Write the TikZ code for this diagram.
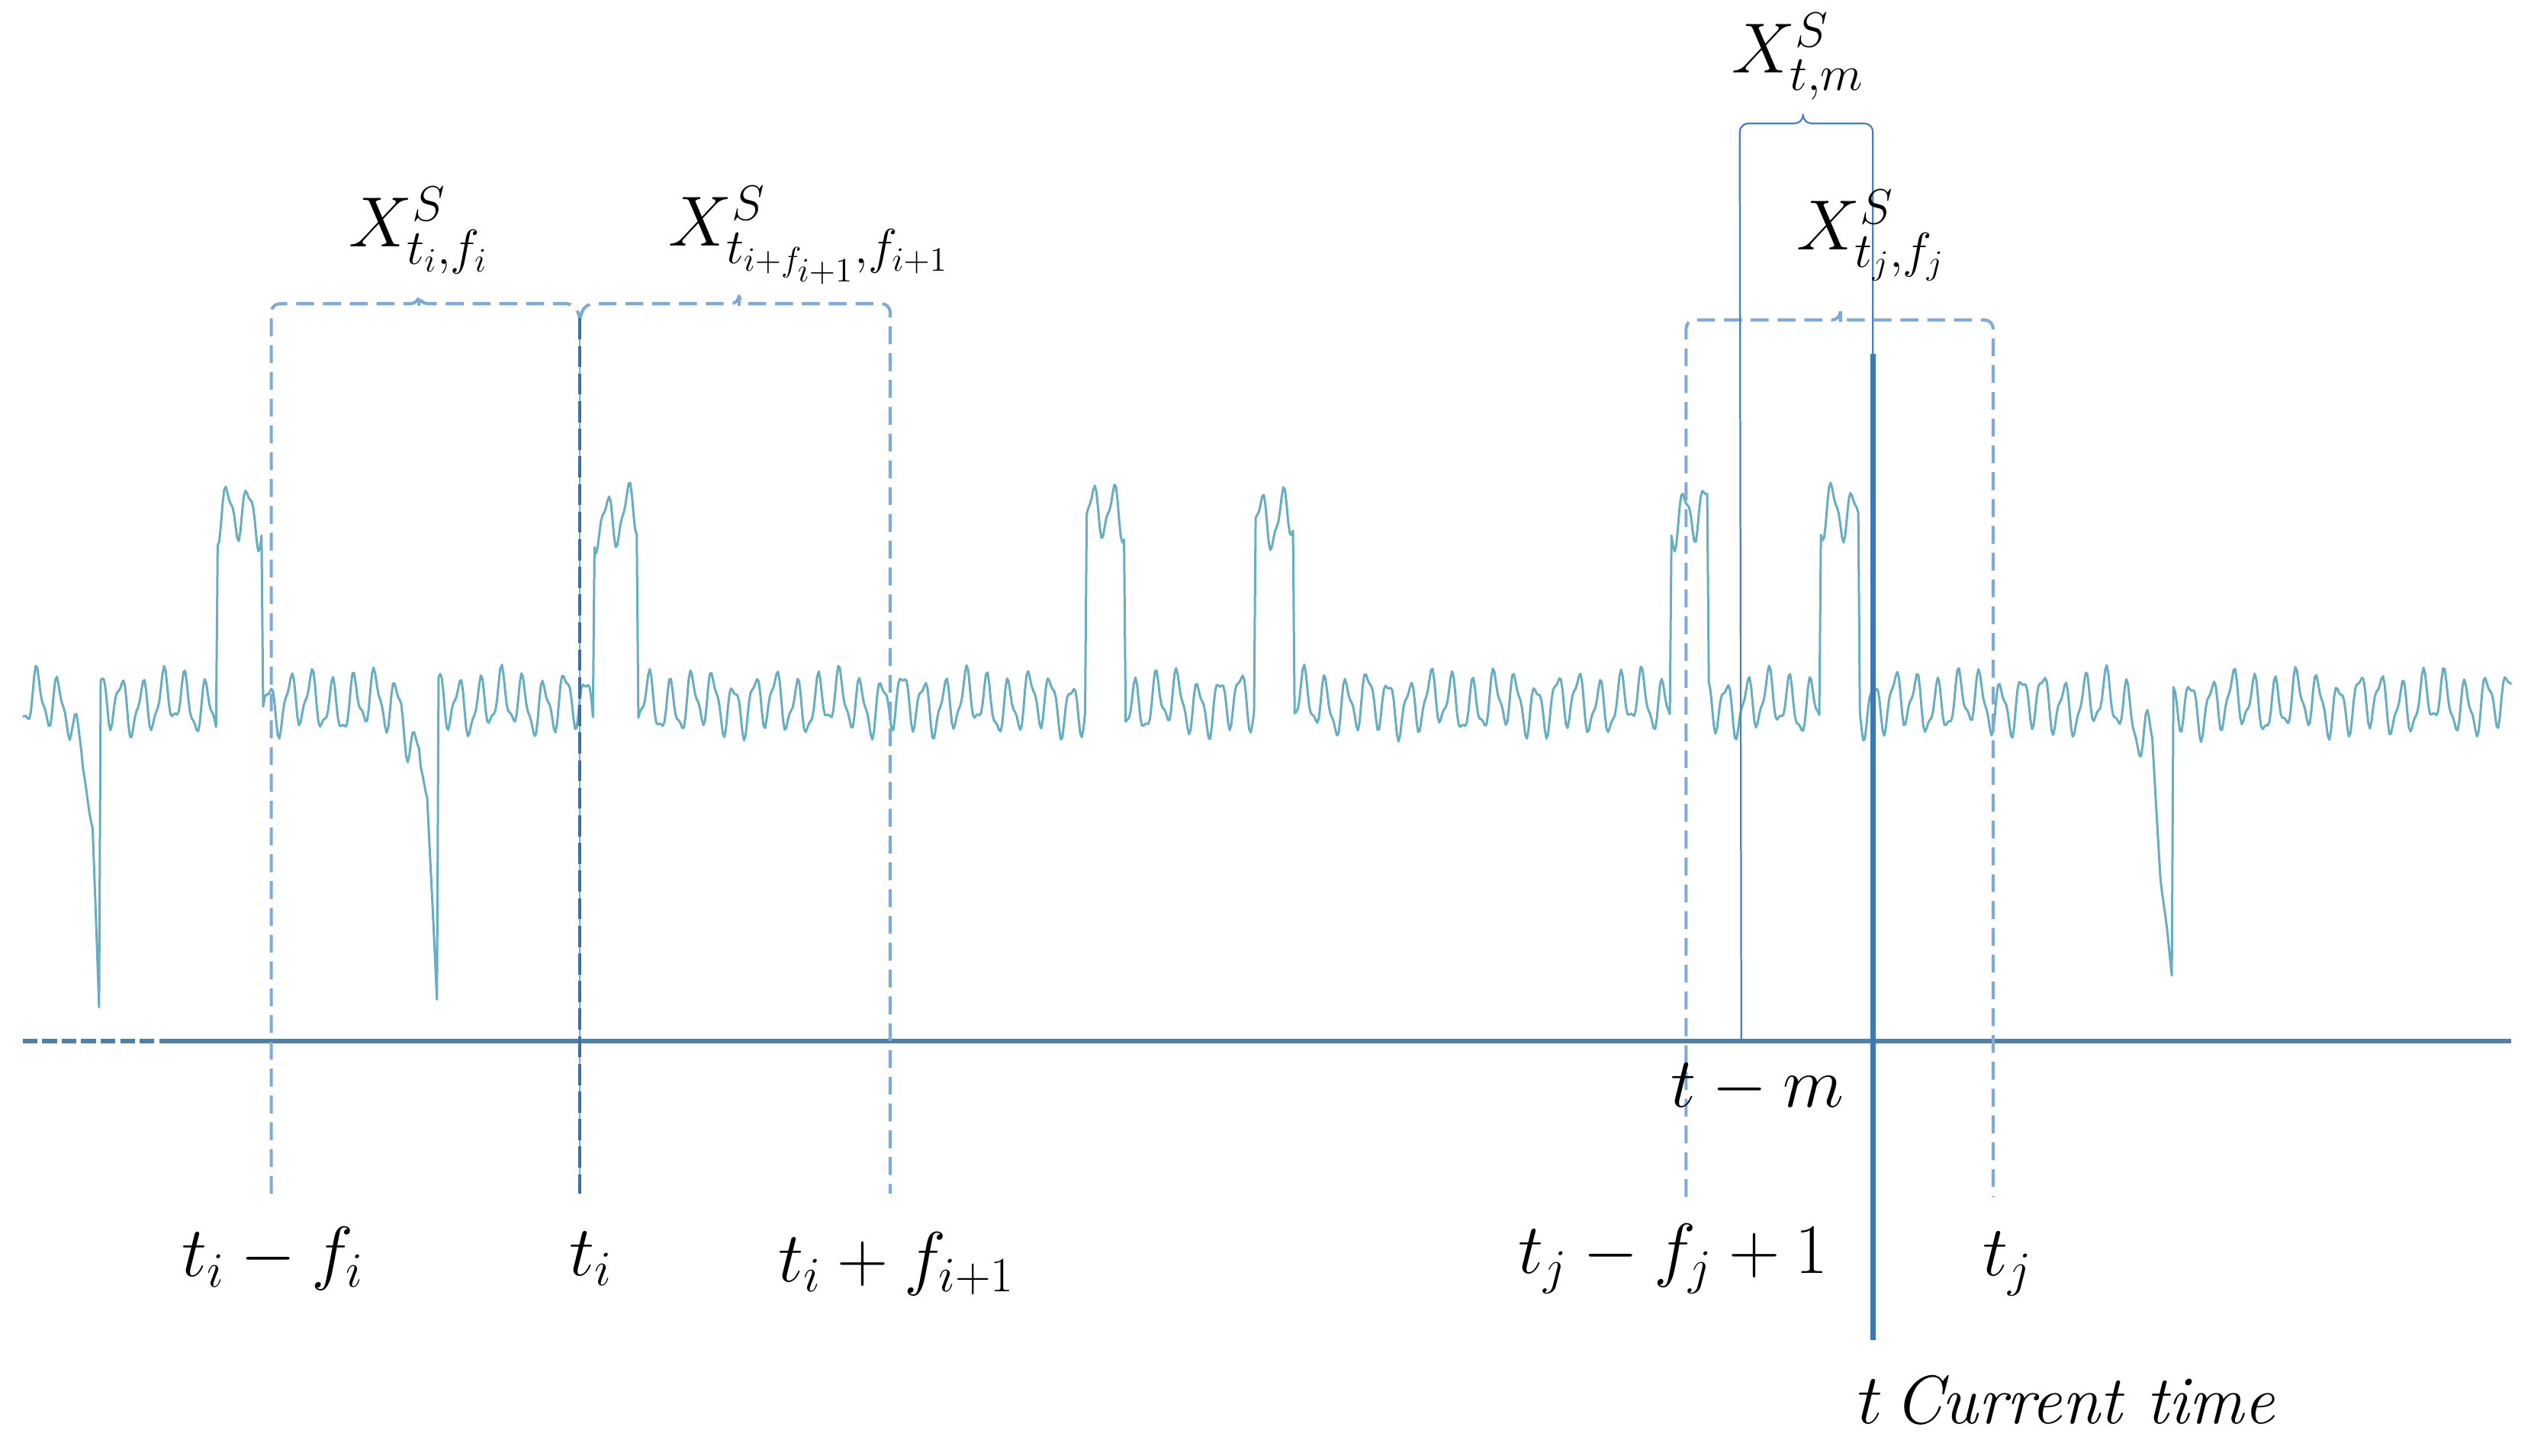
\documentclass[tikz,border=0pt]{standalone}
\usepackage{tikz}
\definecolor{sigc}{HTML}{66AEC0}
\definecolor{axisc}{HTML}{4F7FA6}
\definecolor{dashc}{HTML}{7EAAD8}
\definecolor{darkdash}{HTML}{3F6FA0}
\definecolor{curc}{HTML}{3C78B4}
\definecolor{thinc}{HTML}{4A80BE}
\tikzset{
  signal/.style={sigc, line width=0.8pt, line join=round},
  axisline/.style={axisc, line width=1.8pt},
  bracketd/.style={dashc, line width=1.1pt, dash pattern=on 2.2mm off 1.1mm},
  bracketsolid/.style={thinc, line width=0.6pt},
  curline/.style={curc, line width=1.8pt},
  lab/.style={inner sep=0pt, font=\fontsize{24}{28}\selectfont},
  declare function={
    rmp(\x,\a,\b)=min(max((\x-\a)/(\b-\a),0),1);
    ind(\x,\a,\b)=(\x>\a)*(\x<\b);
    osc(\x)=15*sin(mod(\x,13)*27.6923)+5*sin(mod(\x,6.1)*59.0164+50)+4*sin(mod(\x,41)*8.7805+70);
    plat(\x)=ind(\x,133,162)+ind(\x,365,393)+ind(\x,668,693)+ind(\x,772,797)+ind(\x,1028,1052)+ind(\x,1120,1145);
    dipa(\x)=(\x<62)*(75*rmp(\x,44,57)+115*rmp(\x,57,61));
    dipb(\x)=(\x<270)*(55*rmp(\x,247,263)+130*rmp(\x,263,269));
    dipc(\x)=(\x<1338)*(25*rmp(\x,1308,1325)+80*rmp(\x,1325,1330)+65*rmp(\x,1330,1337));
    damp(\x)=1-0.8*ind(\x,50,62)-0.8*ind(\x,258,270)-0.8*ind(\x,1326,1338);
    sig(\x)=433+osc(\x)*damp(\x)-115*plat(\x)+dipa(\x)+dipb(\x)+dipc(\x);
  }
}
\begin{document}
\begin{tikzpicture}[x=0.2mm, y=-0.2mm]
\useasboundingbox (0,0) rectangle (1568,896);
% signal
\draw[signal] plot[domain=14:1546, samples=1533] (\x,{sig(\x)});
% axis
\coordinate (ax0) at (14,641);
\coordinate (ax1) at (100,641);
\coordinate (ax2) at (1546,641);
\draw[axisline, dash pattern=on 1.8mm off 0.6mm] (ax0) -- (ax1);
\draw[axisline] (ax1) -- (ax2);
% dashed brackets
\coordinate (ti) at (357,196);
\draw[bracketd, rounded corners=3] (167,735) -- (167,187) -- (258,187) -- (258,183) -- (258,187) -- (354,187) -- (ti);
\draw[bracketd, rounded corners=3] (ti) -- (360,187) -- (455,187) -- (455,183) -- (455,187) -- (548,187) -- (548,735);
\draw[dashc, line width=0.5pt] (ti) -- (357,735);
\draw[darkdash, line width=1.1pt, dash pattern=on 2.6mm off 0.8mm] (ti) -- (357,735);
\draw[bracketd, rounded corners=3] (1038,737) -- (1038,197) -- (1133,197) -- (1133,193) -- (1133,197) -- (1227,197) -- (1227,737);
% solid bracket X_{t,m}
\draw[bracketsolid, rounded corners=3] (1072,641) -- (1071,76) -- (1110,76) -- (1110,67) -- (1110,76) -- (1153,76) -- (1153,220);
\draw[curline] (1153,218) -- (1153,825);
% labels
\node[lab] (l1) at (258,142) {$X^S_{t_i,f_i}$};
\node[lab, font=\fontsize{25.5}{30}\selectfont] (l2) at (498,145) {$X^S_{t_{i+f_{i+1}},f_{i+1}}$};
\node[lab] (l3) at (1107,35) {$X^S_{t,m}$};
\node[lab] (l4) at (1152,145) {$X^S_{t_j,f_j}$};
\node[lab] (b1) at (168,775) {$t_i-f_i$};
\node[lab] (b2) at (364,775) {$t_i$};
\node[lab] (b3) at (552,778) {$t_i+f_{i+1}$};
\node[lab] (b4) at (1082,670) {$t-m$};
\node[lab] (b5) at (1030,775) {$t_j-f_j+1$};
\node[lab] (b6) at (1236,778) {$t_j$};
\node[lab] (b7) at (1272,862) {$t$\,\textit{Current time}};
\end{tikzpicture}
\end{document}
